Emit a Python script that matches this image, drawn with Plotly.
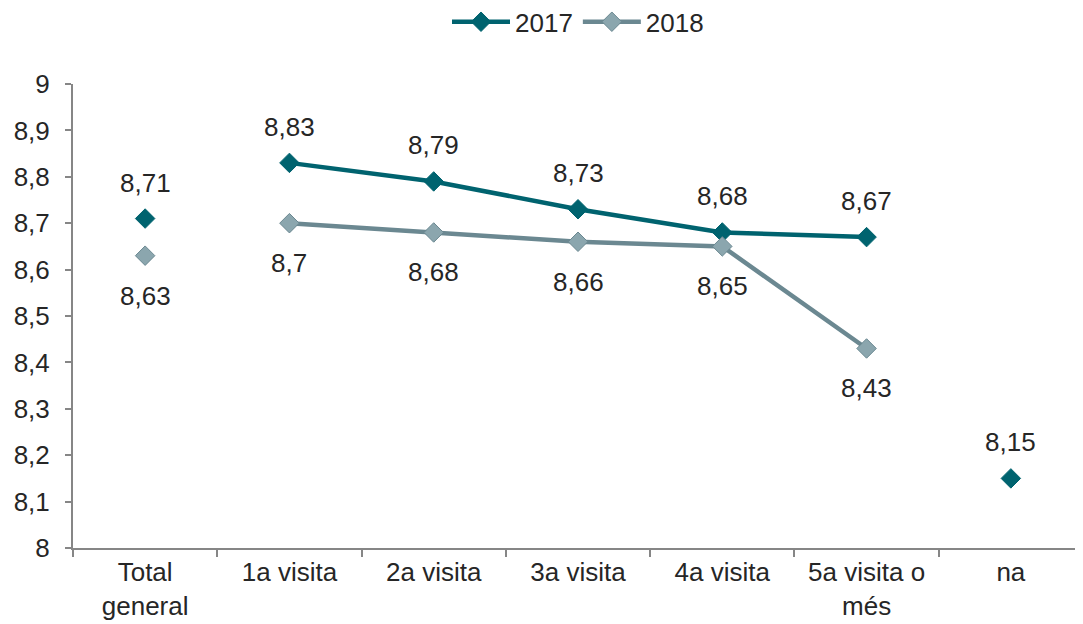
import plotly.graph_objects as go

categories = ["Total<br>general", "1a visita", "2a visita", "3a visita", "4a visita", "5a visita o<br>més", "na"]
v2017 = [8.71, 8.83, 8.79, 8.73, 8.68, 8.67, 8.15]
v2018 = [8.63, 8.70, 8.68, 8.66, 8.65, 8.43, None]
yticks = [8, 8.1, 8.2, 8.3, 8.4, 8.5, 8.6, 8.7, 8.8, 8.9, 9]

c17_line = "#00636F"
c17_mark = "#00636F"
c18_line = "#6B8891"
c18_mark = "#8BA6AE"
txt = "#262626"
FS = 26

def fmt(v):
    s = ("%.2f" % v).rstrip("0").rstrip(".")
    return s.replace(".", ",")

fig = go.Figure()
line_idx = [1, 2, 3, 4, 5]
fig.add_trace(go.Scatter(x=[categories[i] for i in line_idx], y=[v2017[i] for i in line_idx],
                         mode="lines+markers", name="2017",
                         line=dict(color=c17_line, width=4.5),
                         marker=dict(symbol="diamond", size=15, color=c17_mark, line=dict(color=c17_line, width=1))))
fig.add_trace(go.Scatter(x=[categories[i] for i in line_idx], y=[v2018[i] for i in line_idx],
                         mode="lines+markers", name="2018",
                         line=dict(color=c18_line, width=4.5),
                         marker=dict(symbol="diamond", size=15, color=c18_mark, line=dict(color=c18_line, width=1))))
iso17 = [0, 6]
fig.add_trace(go.Scatter(x=[categories[i] for i in iso17], y=[v2017[i] for i in iso17],
                         mode="markers", showlegend=False,
                         marker=dict(symbol="diamond", size=15, color=c17_mark, line=dict(color=c17_line, width=1))))
iso18 = [0]
fig.add_trace(go.Scatter(x=[categories[i] for i in iso18], y=[v2018[i] for i in iso18],
                         mode="markers", showlegend=False,
                         marker=dict(symbol="diamond", size=15, color=c18_mark, line=dict(color=c18_line, width=1))))

for c, v in zip(categories, v2017):
    if v is not None:
        fig.add_annotation(x=c, y=v, text=fmt(v), showarrow=False, yshift=36,
                           font=dict(size=FS, color=txt))
for c, v in zip(categories, v2018):
    if v is not None:
        fig.add_annotation(x=c, y=v, text=fmt(v), showarrow=False, yshift=-40,
                           font=dict(size=FS, color=txt))

fig.update_layout(
    width=1083, height=624,
    margin=dict(l=65, r=8, t=76, b=84, autoexpand=False),
    paper_bgcolor="white", plot_bgcolor="white",
    separators=",.",
    font=dict(family="Liberation Sans, Arial, sans-serif", size=FS, color=txt),
    legend=dict(orientation="h", x=0.5, xanchor="center", y=1.134, yanchor="middle",
                font=dict(size=FS), tracegroupgap=0, itemwidth=58),
    showlegend=True,
)
fig.update_xaxes(type="category", categoryorder="array", categoryarray=categories,
                 range=[-0.5, len(categories) - 0.5],
                 showline=True, linecolor="#868686", linewidth=2,
                 ticks="outside", tickson="boundaries", ticklen=7, tickcolor="#868686", tickwidth=2,
                 showgrid=False, zeroline=False, tickfont=dict(size=FS), automargin=False)
fig.update_yaxes(range=[8, 9], tickvals=yticks, ticktext=[fmt(t) for t in yticks],
                 showline=True, linecolor="#868686", linewidth=2,
                 ticks="outside", ticklen=6, tickcolor="#868686", tickwidth=2,
                 showgrid=False, zeroline=False, tickfont=dict(size=FS), automargin=False,
                 ticklabelstandoff=10)

fig.write_html("out.html")
